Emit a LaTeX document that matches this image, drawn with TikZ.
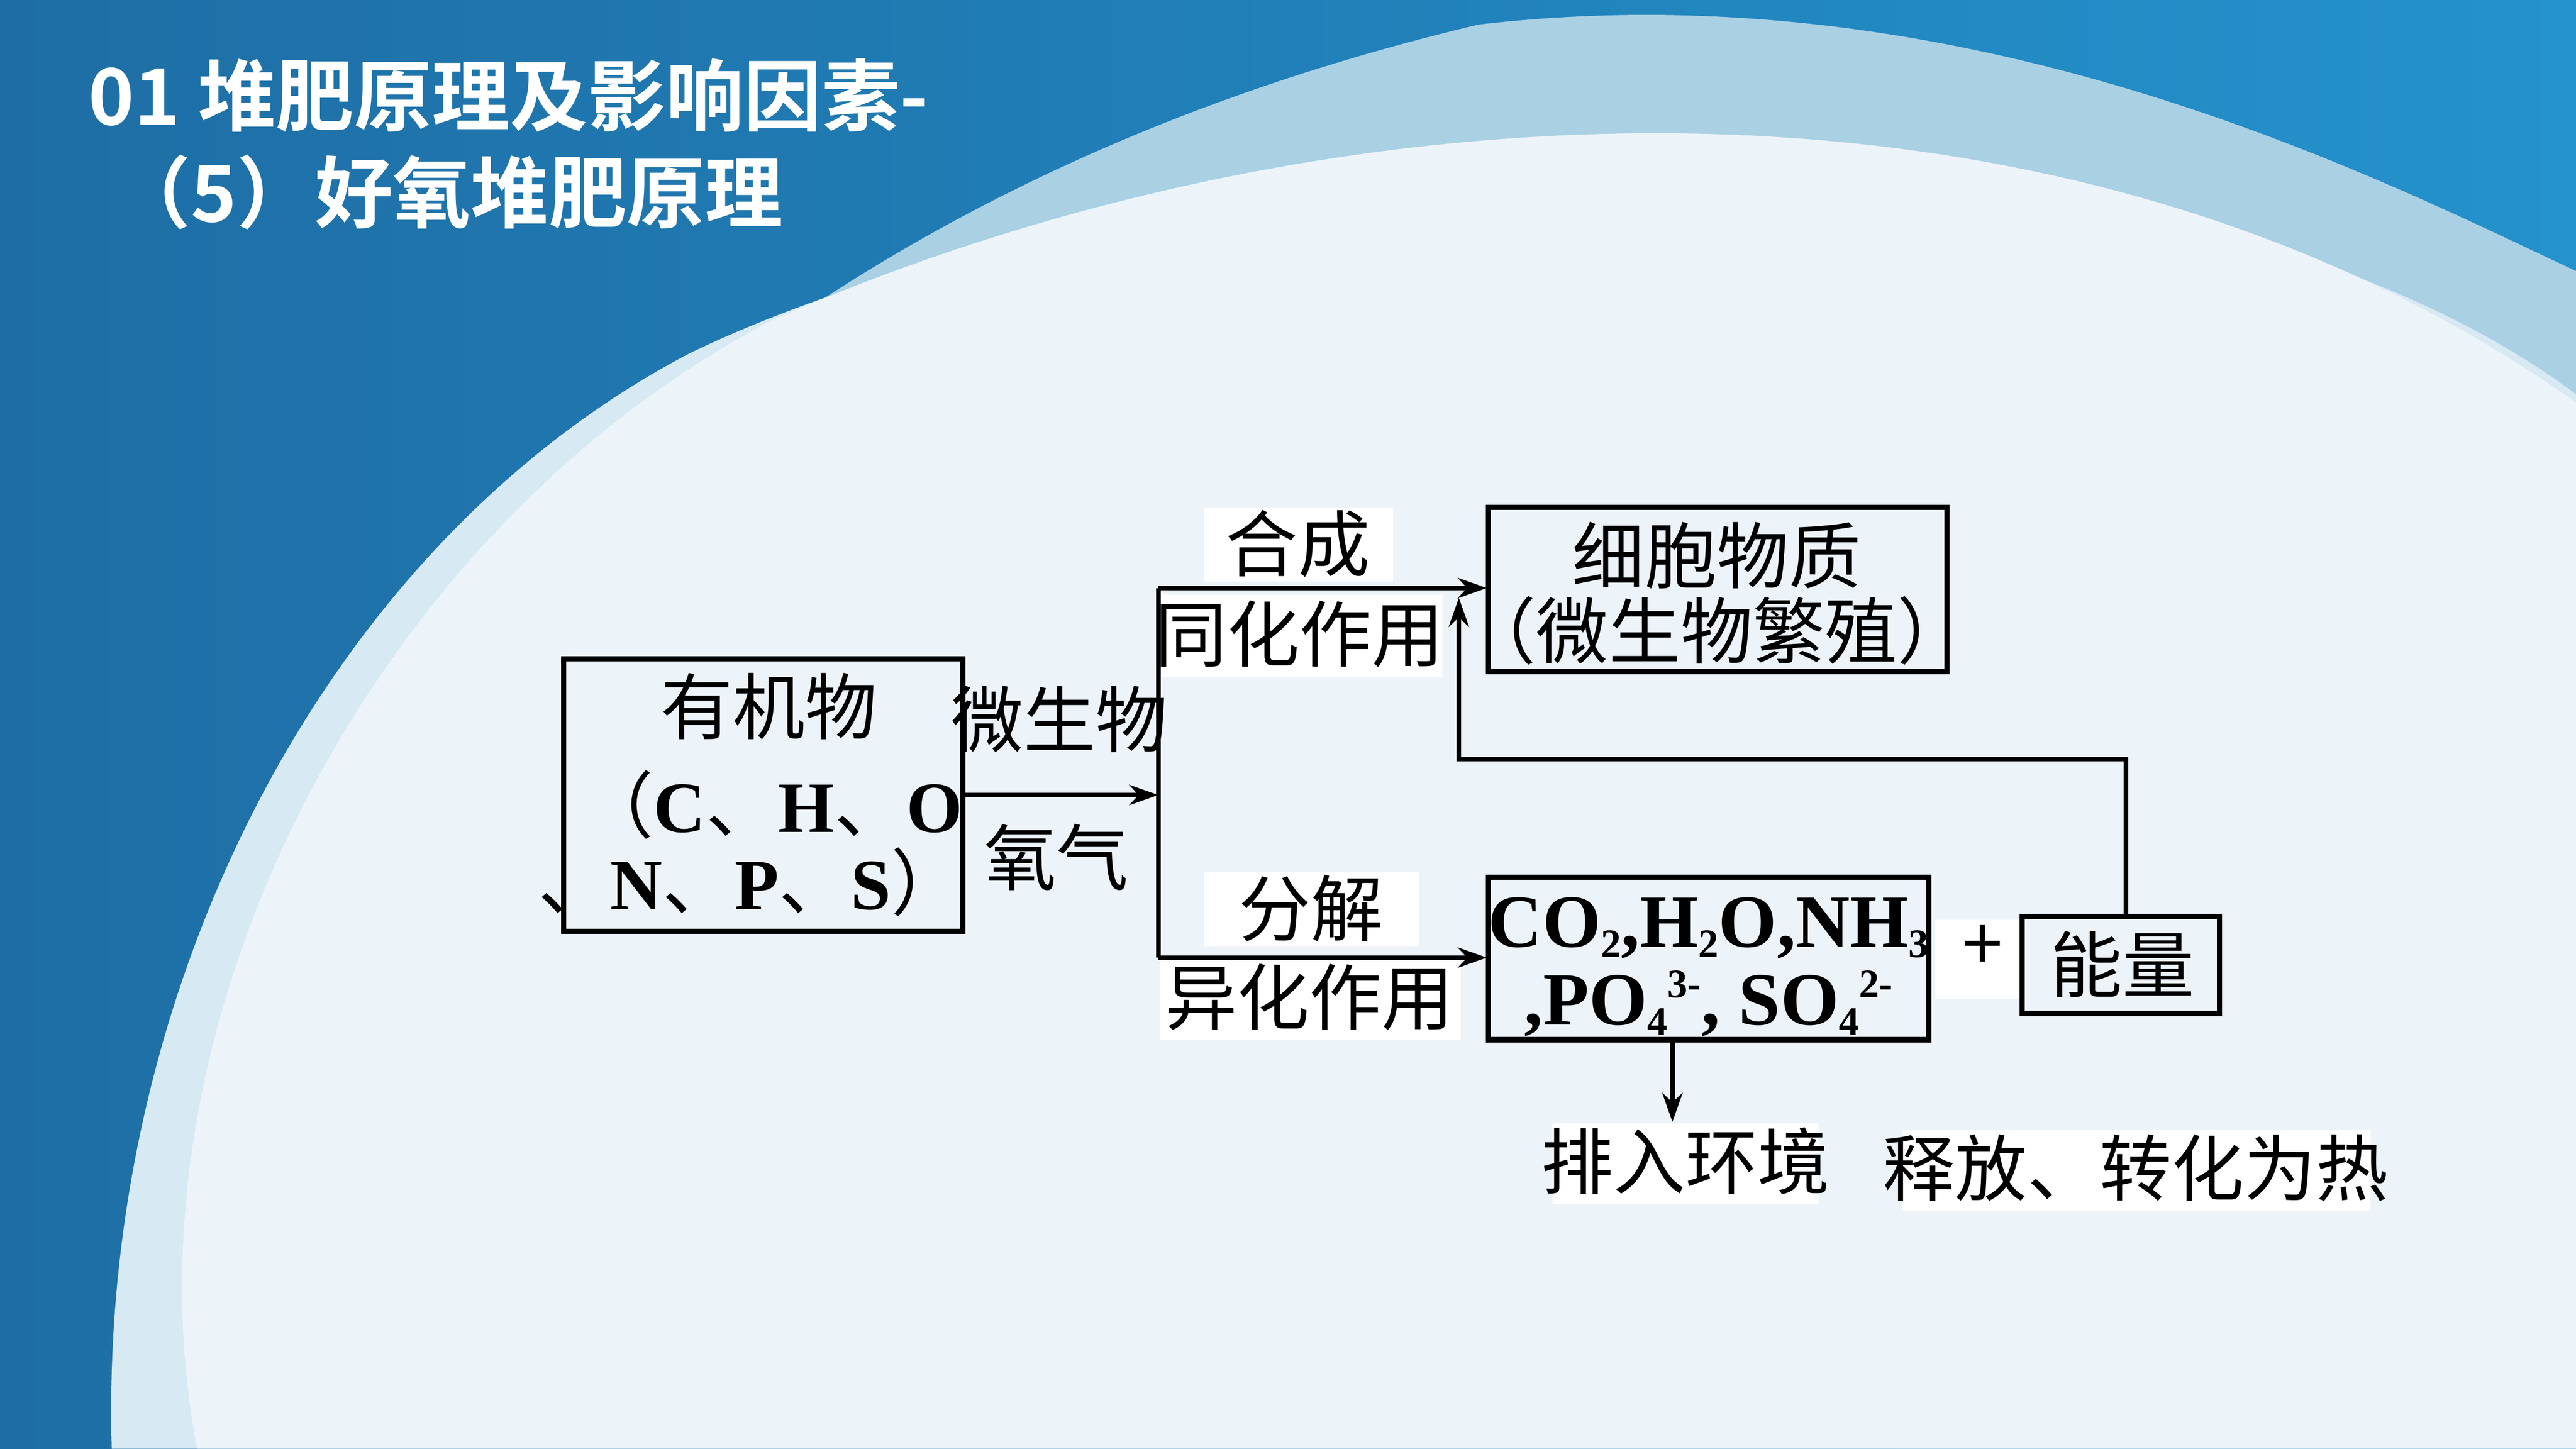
\documentclass[tikz,border=0pt]{standalone}
\usepackage{fontspec}
\setmainfont{Liberation Serif}
\newfontfamily\cjk{Noto Sans CJK SC}
\newfontfamily\cjkb{Noto Sans CJK SC Bold}
\usetikzlibrary{arrows.meta}
\definecolor{bgA}{RGB}{30,110,165}
\definecolor{bgB}{RGB}{36,146,204}
\definecolor{band1}{RGB}{170,208,228}
\definecolor{band2}{RGB}{215,233,243}
\definecolor{pale}{RGB}{236,244,250}
\begin{document}
\begin{tikzpicture}[x=0.01cm,y=-0.01cm,
  bx/.style={draw=black,line width=0.9pt,fill=none},
  wb/.style={fill=white,draw=none},
  ln/.style={black,line width=0.8pt},
  ar/.style={ln,-{Stealth[length=5pt,width=3.5pt]}},
  tx/.style={font=\cjk\fontsize{12.5}{14}\selectfont,inner sep=0pt}]
\useasboundingbox (0,0) rectangle (1568,882);
\fill[left color=bgA,right color=bgB] (0,0) rectangle (1568,882);
\fill[band1] (68,882) .. controls (90,560) and (330,150) .. (900,15) .. controls (1200,-20) and (1450,110) .. (1568,165) -- (1568,882) -- cycle;
\fill[band2] (68,882) .. controls (60,600) and (200,330) .. (420,215) .. controls (700,80) and (1300,40) .. (1568,240) -- (1568,882) -- cycle;
\fill[pale] (120,882) .. controls (70,620) and (230,320) .. (470,195) .. controls (800,50) and (1250,20) .. (1568,245) -- (1568,882) -- cycle;
% title
\node[anchor=west,white,font=\cjkb\fontsize{13.5}{15}\selectfont,inner sep=0pt] (t1) at (53,58) {01 堆肥原理及影响因素-};
\node[anchor=west,white,font=\cjkb\fontsize{13.5}{15}\selectfont,inner sep=0pt] (t2) at (68,117) {（5）好氧堆肥原理};
% white label boxes
\path[wb] (733,309) rectangle (848,354) (707,362) rectangle (878,412)
 (733,531) rectangle (864,576) (706,585) rectangle (889,633)
 (1178,560) rectangle (1230,608) (945,684) rectangle (1107,733) (1158,688) rectangle (1443,737);
% main boxes
\draw[bx] (343,401) rectangle (586,567);
\draw[bx] (906,309) rectangle (1185,409);
\draw[bx] (906,534) rectangle (1174,633);
\draw[bx] (1231,558) rectangle (1351,617);
\node[tx] (a1) at (468,430) {有机物};
\node[tx] (a2) at (470,490) {（\textbf{\rmfamily C}、\textbf{\rmfamily H}、\textbf{\rmfamily O}};
\node[tx] (a3) at (457,537) {、\textbf{\rmfamily N}、\textbf{\rmfamily P}、\textbf{\rmfamily S}）};
\node[tx] (m1) at (645,438) {微生物};
\node[tx] (m2) at (643,522) {氧气};
\node[tx] (h1) at (790,331) {合成};
\node[tx] (h2) at (791,386) {同化作用};
\node[tx] (f1) at (798,553) {分解};
\node[tx] (f2) at (797,607) {异化作用};
\node[tx] (c1) at (1045,338) {细胞物质};
\node[tx] (c2) at (1045,384) {（微生物繁殖）};
\node[inner sep=0pt,font=\rmfamily\bfseries\fontsize{13}{14}\selectfont] (p1) at (1040,565) {CO\raisebox{-0.3ex}{\scriptsize 2},H\raisebox{-0.3ex}{\scriptsize 2}O,NH\raisebox{-0.3ex}{\scriptsize 3}};
\node[inner sep=0pt,font=\rmfamily\bfseries\fontsize{13}{14}\selectfont] (p2) at (1040,611) {,PO\raisebox{-0.3ex}{\scriptsize 4}\raisebox{0.8ex}{\scriptsize 3-}, SO\raisebox{-0.3ex}{\scriptsize 4}\raisebox{0.8ex}{\scriptsize 2-}};
\node[tx] (pl) at (1207,577) {+};
\node[tx] (e1) at (1292,587) {能量};
\node[tx] (r1) at (1026,707) {排入环境};
\node[tx] (r2) at (1300,711) {释放、转化为热};
% connectors
\coordinate (j) at (705,484);
\draw[ar] (586,484) -- (j);
\draw[ln] (705,358) -- (705,583);
\draw[ar] (705,358) -- (905,358);
\draw[ar] (705,583) -- (905,583);
\draw[ar] (1294,558) -- (1294,462) -- (888,462) -- (888,364);
\draw[ar] (1018,633) -- (1018,683);
\end{tikzpicture}
\end{document}
